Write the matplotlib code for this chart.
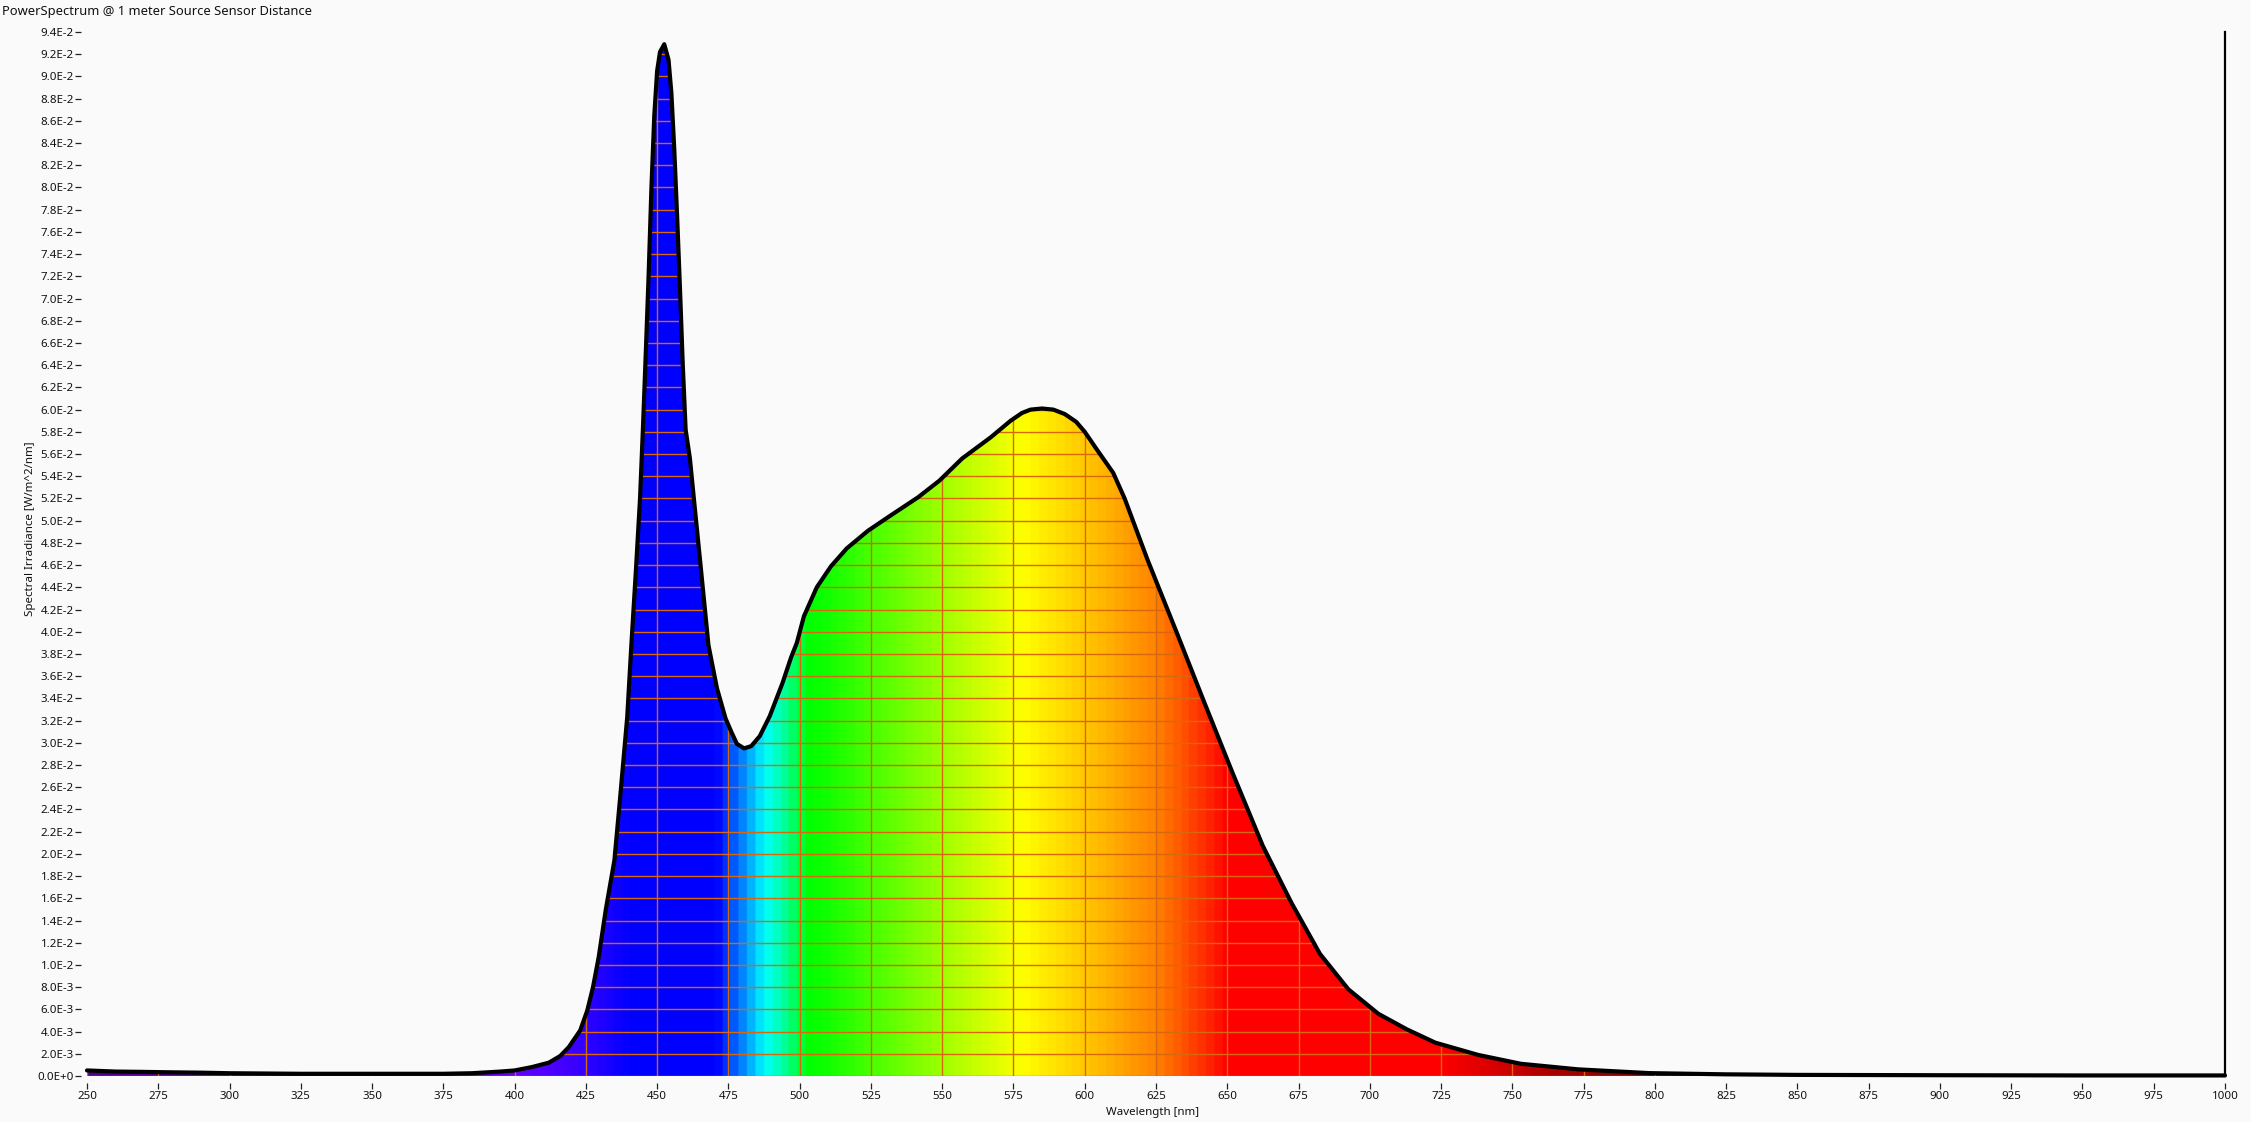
import numpy as np
import matplotlib.pyplot as plt
from matplotlib.colors import LinearSegmentedColormap
from matplotlib.patches import Polygon
from matplotlib.ticker import FuncFormatter

# spectrum (nm, W/m^2/nm)
wavelength = [250, 255, 260, 270, 280, 290, 300, 325, 350, 375, 385, 395, 400,
              406, 412, 416, 419, 423, 425.5, 427.5, 429.5, 432, 435, 437, 439.5,
              441, 442.5, 444, 445, 446, 447, 448, 449, 450, 451, 452.5, 454, 455,
              456, 457, 458, 459, 460, 461.5, 463, 465.5, 468, 471, 474, 476, 478,
              480.5, 483, 486, 489.5, 494, 497, 499, 501.5, 506, 511, 516.5, 524,
              531.5, 541.5, 549, 557, 567, 574, 578, 581, 585, 589, 593, 597, 600,
              604, 610, 614, 622, 632, 642, 652, 662.5, 672.5, 682.5, 692.5, 703,
              713, 723, 738, 753, 773, 798, 825, 850, 900, 950, 1000]
irradiance = [0.0005, 0.00045, 0.0004, 0.00037, 0.00033, 0.0003, 0.00025, 0.0002,
              0.0002, 0.0002, 0.00025, 0.0004, 0.0005, 0.0008, 0.0012, 0.0018,
              0.0026, 0.0041, 0.0059, 0.0080, 0.0107, 0.015, 0.0194, 0.025, 0.0323,
              0.039, 0.0453, 0.052, 0.0582, 0.065, 0.072, 0.080, 0.0865, 0.0905,
              0.0922, 0.0929, 0.0915, 0.0885, 0.0835, 0.0775, 0.071, 0.064, 0.0582,
              0.0556, 0.0517, 0.0453, 0.0388, 0.0349, 0.0322, 0.031, 0.0299, 0.0295,
              0.0297, 0.0306, 0.0324, 0.0354, 0.0377, 0.039, 0.0414, 0.044, 0.0459,
              0.0475, 0.0491, 0.0504, 0.0521, 0.0536, 0.0556, 0.0575, 0.0590,
              0.0597, 0.0600, 0.0601, 0.0600, 0.0596, 0.0589, 0.0580, 0.0565,
              0.0543, 0.052, 0.0465, 0.0401, 0.0336, 0.0272, 0.0207, 0.0156, 0.011,
              0.0078, 0.0056, 0.0042, 0.003, 0.0019, 0.0011, 0.0006, 0.00026,
              0.00015, 0.0001, 0.00007, 0.00005, 0.00005]

x_ticks = np.arange(250, 1001, 25)
y_ticks = np.arange(0, 48) * 0.002

# colour of the fill along the wavelength axis
spec_nm = [250, 350, 400, 420, 440, 470, 478, 487, 495, 503, 510, 550, 578, 600,
           625, 645, 650, 725, 760, 800, 1000]
spec_col = ['#500090', '#5000a0', '#6400ff', '#3c00ff', '#0000ff', '#0000ff',
            '#006eff', '#00ffff', '#00ff8c', '#00ff00', '#14ff00', '#a0ff00',
            '#ffff00', '#ffc800', '#ff8200', '#ff1e00', '#ff0000', '#ff0000',
            '#b40000', '#780000', '#780000']

bg = '#fafafa'
x0, x1 = 250, 1000
y0, y1 = 0, 0.094


def sci(v, pos):
    if abs(v) < 1e-12:
        return '0.0E+0'
    e = int(np.floor(np.log10(abs(v)) + 1e-9))
    return '%.1fE%d' % (v / 10.0 ** e, e)


plt.rcParams['font.family'] = ['Noto Sans', 'DejaVu Sans']

fig = plt.figure(figsize=(22.51, 11.22), dpi=100, facecolor=bg)
W, H = 2251.0, 1122.0
ax = fig.add_axes([87 / W, 46 / H, (2225 - 87) / W, (1076 - 32) / H])
ax.set_facecolor(bg)
ax.set_xlim(x0, x1)
ax.set_ylim(y0, y1)

verts = list(zip(wavelength, irradiance)) + [(wavelength[-1], 0), (wavelength[0], 0)]
shape = Polygon(verts, closed=True, transform=ax.transData,
                facecolor='none', edgecolor='none')
ax.add_patch(shape)

pos = [(n - x0) / (x1 - x0) for n in spec_nm]
cmap = LinearSegmentedColormap.from_list('spec', list(zip(pos, spec_col)))
grad = np.linspace(x0, x1, 1500)[None, :]
im = ax.imshow(grad, extent=[x0, x1, y0, y1], aspect='auto', cmap=cmap,
               vmin=x0, vmax=x1, interpolation='bilinear', origin='lower', zorder=1)
im.set_clip_path(shape)

gcol = '#d8680f'
vl = ax.vlines(x_ticks, y0, y1, colors=gcol, lw=1.0, zorder=2)
hl = ax.hlines(y_ticks, x0, x1, colors=gcol, lw=1.0, zorder=2)
vl.set_clip_path(shape)
hl.set_clip_path(shape)

ax.plot(wavelength, irradiance, color='black', lw=3.0, solid_joinstyle='round',
        solid_capstyle='round', zorder=5, clip_on=False)

for s in ['left', 'top', 'bottom']:
    ax.spines[s].set_visible(False)
ax.spines['right'].set_color('black')
ax.spines['right'].set_linewidth(1.6)
ax.spines['left'].set_position(('outward', 4))
ax.spines['bottom'].set_position(('outward', 5))

ax.set_xticks(x_ticks)
ax.set_yticks(y_ticks)
ax.yaxis.set_major_formatter(FuncFormatter(sci))
ax.tick_params(axis='both', direction='out', length=4, width=0.9, color='#222222',
               labelsize=8.3, labelcolor='#111111', pad=1.5)

fig.text(2 / W, 1 - 12 / H, 'PowerSpectrum @ 1 meter Source Sensor Distance',
         ha='left', va='center', fontsize=9.3, color='#111111')
fig.text(1153 / W, 1 - 1112 / H, 'Wavelength [nm]', ha='center', va='center',
         fontsize=8.3, color='#111111')
fig.text(31 / W, 1 - 529 / H, 'Spectral Irradiance [W/m^2/nm]', rotation=90,
         ha='center', va='center', fontsize=8.3, color='#111111')

fig.savefig('out.png', dpi=100, facecolor=bg)
